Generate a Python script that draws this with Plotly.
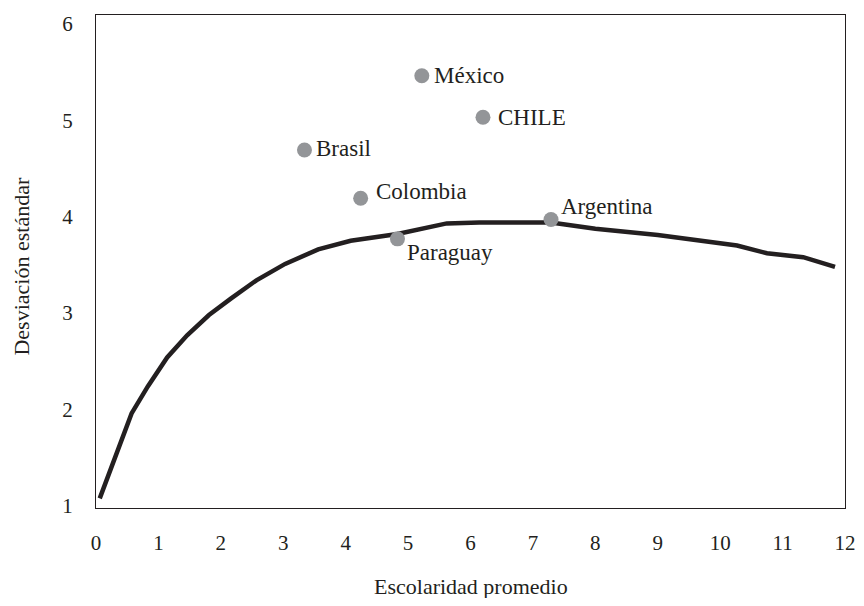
import plotly.graph_objects as go

# Curve: average schooling vs standard deviation
curve_x = [0.06, 0.57, 0.83, 1.14, 1.46, 1.81, 2.16, 2.57, 3.03, 3.56, 4.08, 4.83,
           5.62, 6.14, 7.29, 8.0, 9.0, 10.27, 10.75, 11.33, 11.84]
curve_y = [1.08, 1.96, 2.24, 2.54, 2.77, 2.98, 3.15, 3.34, 3.51, 3.66, 3.75, 3.82,
           3.93, 3.94, 3.94, 3.875, 3.81, 3.70, 3.62, 3.58, 3.48]

# Countries
countries = ["México", "CHILE", "Brasil", "Colombia", "Paraguay", "Argentina"]
country_x = [5.22, 6.20, 3.34, 4.24, 4.83, 7.29]
country_y = [5.46, 5.03, 4.69, 4.19, 3.77, 3.97]
label_dx = [10, 13, 10, 13, 8, 8]
label_dy = [0, 0, 2, 7, -14, 13]

x_ticks = list(range(0, 13))
y_ticks = [1, 2, 3, 4, 5, 6]

FONT = "Liberation Serif, Times New Roman, serif"
INK = "#231f20"

fig = go.Figure()
fig.add_trace(go.Scatter(x=curve_x, y=curve_y, mode="lines",
                         line=dict(color=INK, width=4.5), showlegend=False,
                         hoverinfo="skip"))
fig.add_trace(go.Scatter(x=country_x, y=country_y, mode="markers",
                         marker=dict(color="#939598", size=15, line=dict(width=0)),
                         showlegend=False))

annotations = []
for name, x, y, dx, dy in zip(countries, country_x, country_y, label_dx, label_dy):
    annotations.append(dict(x=x, y=y, xref="x", yref="y", text=name, showarrow=False,
                            xanchor="left", yanchor="middle", xshift=dx, yshift=dy,
                            font=dict(family=FONT, size=23, color=INK)))
annotations.append(dict(x=0.5, y=-0.16, xref="paper", yref="paper",
                        text="Escolaridad promedio", showarrow=False,
                        xanchor="center", yanchor="middle",
                        font=dict(family=FONT, size=22, color=INK)))
annotations.append(dict(x=-0.1, y=0.49, xref="paper", yref="paper",
                        text="Desviación estándar", showarrow=False, textangle=-90,
                        xanchor="center", yanchor="middle",
                        font=dict(family=FONT, size=22, color=INK)))

# page body has an 8px margin, so the figure is sized and offset to compensate
fig.update_layout(
    width=856, height=590,
    margin=dict(l=88, r=19, t=4, b=90),
    paper_bgcolor="white", plot_bgcolor="white",
    font=dict(family=FONT, size=21, color=INK),
    annotations=annotations,
    xaxis=dict(range=[0, 12], tickvals=x_ticks, showgrid=False, zeroline=False,
               showline=True, mirror=True, linecolor=INK, linewidth=1,
               ticks="", ticklabelstandoff=16, ticklabeloverflow="allow",
               tickfont=dict(family=FONT, size=21, color=INK)),
    yaxis=dict(range=[0.98, 6.09], tickvals=y_ticks, showgrid=False, zeroline=False,
               showline=True, mirror=True, linecolor=INK, linewidth=1,
               ticks="", ticklabelstandoff=18,
               tickfont=dict(family=FONT, size=21, color=INK)),
)

fig.write_html("out.html")
